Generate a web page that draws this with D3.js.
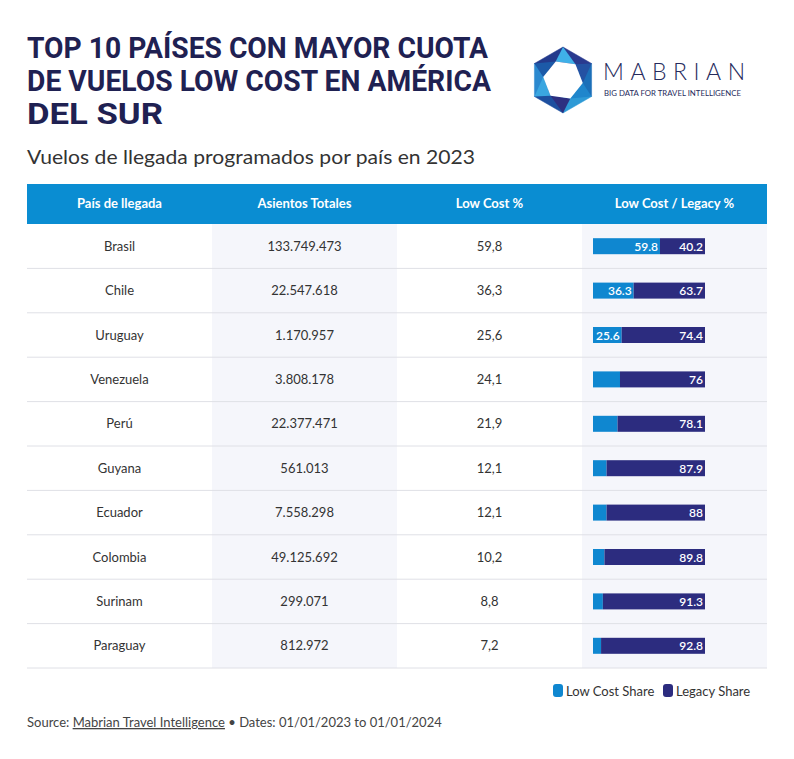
<!DOCTYPE html>
<html><head><meta charset="utf-8">
<script src="https://cdn.jsdelivr.net/npm/d3@7"></script>
<style>body{margin:0;background:#fff}svg{display:block}</style>
</head><body>
<svg id="c" width="794" height="759"></svg>
<script>
const countries = ["Brasil","Chile","Uruguay","Venezuela","Perú","Guyana","Ecuador","Colombia","Surinam","Paraguay"];
const seats = ["133.749.473","22.547.618","1.170.957","3.808.178","22.377.471","561.013","7.558.298","49.125.692","299.071","812.972"];
const lowCost = [59.8,36.3,25.6,24.1,21.9,12.1,12.1,10.2,8.8,7.2];
const legacy = [40.2,63.7,74.4,76,78.1,87.9,88,89.8,91.3,92.8];
const headers = ["País de llegada","Asientos Totales","Low Cost %","Low Cost / Legacy %"];

const svg = d3.select("#c");
const F = "'Source Sans Pro','Lato','Noto Sans',sans-serif";
const navy = "#1f2152", lc = "#0f87d0", lg = "#2c2c7f", hdr = "#0a8dd2";

// Title
const title = ["TOP 10 PAÍSES CON MAYOR CUOTA","DE VUELOS LOW COST EN AMÉRICA","DEL SUR"];
const tw = [461, 464, 136];
title.forEach((t,i)=>{
  svg.append("text").attr("x",27).attr("y",58+i*33).text(t)
    .attr("font-family","Roboto,sans-serif").attr("font-weight",700)
    .attr("font-size",30).attr("fill",navy)
    .attr("textLength",tw[i]).attr("lengthAdjust","spacingAndGlyphs");
});
svg.append("text").attr("x",27).attr("y",164).text("Vuelos de llegada programados por país en 2023")
  .attr("font-family",F).attr("font-size",19).attr("fill","#333")
  .attr("textLength",448).attr("lengthAdjust","spacingAndGlyphs");

// Logo
const lgG = svg.append("g").attr("transform","translate(563,80)");
const R = 33;
const outer = d3.range(6).map(i=>{const a=-Math.PI/2+i*Math.PI/3;return [R*Math.cos(a),R*Math.sin(a)];});
const shades = ["#2a3a8f","#1b6fb8","#2e9ad6","#1d4f9f","#2b89cf","#233a8c"];
for(let i=0;i<6;i++){
  const p1=outer[i],p2=outer[(i+1)%6];
  lgG.append("path").attr("d",`M0,0L${p1[0]},${p1[1]}L${p2[0]},${p2[1]}Z`).attr("fill",shades[i]).attr("stroke",shades[i]).attr("stroke-width",0.5);
}
const r2 = 20;
const inner = d3.range(6).map(i=>{const a=-Math.PI/2+Math.PI/6+i*Math.PI/3+0.15;return [r2*Math.cos(a),r2*Math.sin(a)];});
const tri = ["#3fb0e8","#2452a3","#1f86cc","#2d2f80","#3aa6e0","#1c5aa8"];
for(let i=0;i<6;i++){
  const p=outer[i], q=inner[i], s=inner[(i+5)%6];
  lgG.append("path").attr("d",`M${p[0]},${p[1]}L${q[0]},${q[1]}L${s[0]},${s[1]}Z`).attr("fill",tri[i]);
}
lgG.append("path").attr("d","M"+inner.map(d=>d.join(",")).join("L")+"Z").attr("fill","#fff");
svg.append("text").attr("x",603).attr("y",80).text("MABRIAN")
  .attr("font-family","Lato,sans-serif").attr("font-weight",300).attr("font-size",23)
  .attr("fill","#262a5c").attr("textLength",142).attr("lengthAdjust","spacing");
svg.append("text").attr("x",604).attr("y",96).text("BIG DATA FOR TRAVEL INTELLIGENCE")
  .attr("font-family","Lato,sans-serif").attr("font-size",7.5)
  .attr("fill","#262a5c").attr("textLength",137).attr("lengthAdjust","spacingAndGlyphs");

// Table
const colX = d3.scaleBand().domain(d3.range(4)).range([27,767]);
const rowY = d3.scaleBand().domain(countries).range([224,668]);
[1,3].forEach(c=>svg.append("rect").attr("x",colX(c)).attr("y",224).attr("width",colX.bandwidth()).attr("height",444).attr("fill","#f5f6fb"));
svg.append("rect").attr("x",27).attr("y",184).attr("width",740).attr("height",40).attr("fill",hdr);
headers.forEach((h,i)=>svg.append("text").attr("x",colX(i)+colX.bandwidth()/2).attr("y",208)
  .attr("text-anchor","middle").text(h).attr("font-family",F).attr("font-weight",700)
  .attr("font-size",13).attr("fill","#fff"));
countries.forEach(c=>{
  svg.append("line").attr("x1",27).attr("x2",767).attr("y1",rowY(c)+rowY.bandwidth()).attr("y2",rowY(c)+rowY.bandwidth())
    .attr("stroke","#dfe0e6").attr("stroke-width",1);
});
const fmt = v=>String(v).replace(".",",");
countries.forEach((c,i)=>{
  const cy = rowY(c)+rowY.bandwidth()/2;
  const cells=[c,seats[i],fmt(lowCost[i])];
  cells.forEach((t,j)=>svg.append("text").attr("x",colX(j)+colX.bandwidth()/2).attr("y",cy+4.5)
    .attr("text-anchor","middle").text(t).attr("font-family",F).attr("font-size",13).attr("fill","#333"));
});
const x = d3.scaleLinear().domain([0,100]).range([593,705]);
const bh = 16;
countries.forEach((c,i)=>{
  const cy = rowY(c)+rowY.bandwidth()/2;
  svg.append("rect").attr("x",x(0)).attr("y",cy-bh/2).attr("width",x(lowCost[i])-x(0)).attr("height",bh).attr("fill",lc);
  svg.append("rect").attr("x",x(lowCost[i])).attr("y",cy-bh/2).attr("width",x(100)-x(lowCost[i])).attr("height",bh).attr("fill",lg);
  if(lowCost[i]>=25){
    svg.append("text").attr("x",x(lowCost[i])-2).attr("y",cy+4.5).attr("text-anchor","end").text(lowCost[i])
      .attr("font-family",F).attr("font-weight",600).attr("font-size",12).attr("fill","#fff");
  }
  svg.append("text").attr("x",x(100)-2).attr("y",cy+4.5).attr("text-anchor","end").text(legacy[i])
    .attr("font-family",F).attr("font-weight",600).attr("font-size",12).attr("fill","#fff");
});

const legend=[["Low Cost Share",lc,553],["Legacy Share",lg,663]];
legend.forEach(([t,col,lx])=>{
  svg.append("rect").attr("x",lx).attr("y",684).attr("width",10).attr("height",13).attr("rx",3).attr("fill",col);
  svg.append("text").attr("x",lx+13).attr("y",695.5).text(t).attr("font-family",F).attr("font-size",13).attr("fill","#333");
});

const src = svg.append("text").attr("x",27).attr("y",727).attr("font-family",F).attr("font-size",13).attr("fill","#444");
src.append("tspan").text("Source: ");
src.append("tspan").text("Mabrian Travel Intelligence").attr("text-decoration","underline");
src.append("tspan").text(" • Dates: 01/01/2023 to 01/01/2024");
</script>
</body></html>
